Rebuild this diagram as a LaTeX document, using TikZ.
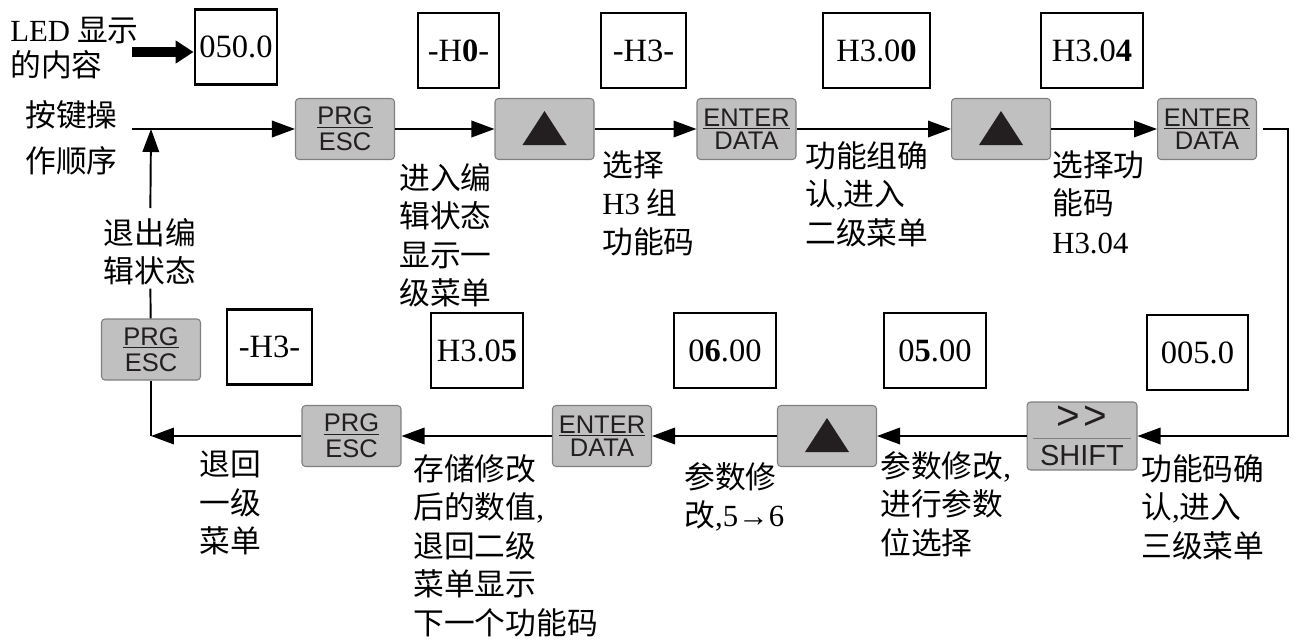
\documentclass[tikz,border=0pt]{standalone}
\usepackage{fontspec}
\setmainfont{Liberation Serif}
\newfontfamily\cjk{Noto Sans CJK SC}
\newfontfamily\keysans{Liberation Sans}
\usepackage{xcolor}
\usetikzlibrary{arrows.meta}

\definecolor{keygray}{HTML}{C0C0C0}
\definecolor{keyedge}{HTML}{7F7F7F}
\definecolor{keyink}{HTML}{231F20}
\newcommand\lat[1]{{\rmfamily #1}}

\begin{document}
\begin{tikzpicture}[
    x=0.02cm, y=-0.02cm,
    led/.style={draw, line width=1.6pt, minimum height=1.5cm, inner sep=0pt, font=\fontsize{18.5}{20}\selectfont},
    key/.style={draw=keyedge, fill=keygray, rounded corners=2pt, line width=0.6pt, minimum width=1.98cm, minimum height=1.22cm, inner sep=0pt, align=center, text=keyink, font=\keysans\fontsize{14.5}{15}\selectfont},
    note/.style={anchor=north west, align=left, inner sep=0pt, font=\cjk\fontsize{17.5}{21.9}\selectfont},
    flow/.style={line width=1.1pt, -{Triangle[length=0.46cm, width=0.33cm]}},
    link/.style={line width=1.1pt},
]
\useasboundingbox (0,0) rectangle (1293,639);

% LED display contents
\node[led, minimum width=1.64cm] (d0) at (236,47) {050.0};
\node[led, minimum width=1.62cm] (d1) at (458.5,50.5) {-H\textbf{0}-};
\node[led, minimum width=1.70cm] (d2) at (643.5,50.5) {-H3-};
\node[led, minimum width=2.14cm] (d3) at (876.5,50.5) {H3.0\textbf{0}};
\node[led, minimum width=2.04cm] (d4) at (1092,50.5) {H3.0\textbf{4}};
\node[led, minimum width=1.70cm] (d5) at (269.5,347) {-H3-};
\node[led, minimum width=1.84cm] (d6) at (477,350.5) {H3.0\textbf{5}};
\node[led, minimum width=2.04cm] (d7) at (725,350.5) {0\textbf{6}.00};
\node[led, minimum width=2.04cm] (d8) at (935,350.5) {0\textbf{5}.00};
\node[led, minimum width=2.02cm] (d9) at (1197.5,352.5) {005.0};

% keys, top row
\node[key] (prgA) at (345,129) {\underline{PRG}\\ESC};
\node[key] (upA) at (544.5,129) {};
\node[key] (entA) at (746.5,129) {\underline{ENTER}\\[-2pt]DATA};
\node[key] (upB) at (1001,129) {};
\node[key] (entB) at (1207,129) {\underline{ENTER}\\[-2pt]DATA};
% keys, bottom row
\node[key, minimum width=2.2cm, minimum height=1.36cm] (shift) at (1082,436)
    {{\fontsize{23}{23}\selectfont >\hspace{0.08em}>}\\[-0.65em]\textcolor{gray}{\rule{1.95cm}{0.8pt}}\\[0em]{\fontsize{16.5}{17}\selectfont SHIFT}};
\node[key] (upC) at (827,436) {};
\node[key] (entC) at (602,436) {\underline{ENTER}\\[-2pt]DATA};
\node[key] (prgB) at (351.5,436) {\underline{PRG}\\ESC};
\node[key] (prgC) at (151,349.5) {\underline{PRG}\\ESC};

\foreach \k in {upA,upB,upC}
    \fill[keyink] (\k.center) ++(-22,16) -- ++(44,0) -- ++(-22,-34) -- cycle;

% labels
\node[note] (ledlbl) at (10,17) {\lat{LED} 显示\\[-2pt]的内容};
\node[note] (keylbl) at (25,100) {按键操\\[4.5pt]作顺序};
\node[note, anchor=north, align=center] (exitlbl) at (150,218) {退出编\\辑状态};
\node[note] (n1) at (399,163) {进入编\\辑状态\\显示一\\级菜单};
\node[note] (n2) at (602,150) {选择\\\lat{H3} 组\\功能码};
\node[note] (n3) at (805,141) {功能组确\\认\lat{,}进入\\二级菜单};
\node[note] (n4) at (1052,150) {选择功\\能码\\\lat{H3.04}};
\node[note] (n5) at (1141,454) {功能码确\\认\lat{,}进入\\三级菜单};
\node[note] (n6) at (880,451) {参数修改\lat{,}\\进行参数\\位选择};
\node[note] (n7) at (684,462) {参数修\\改\lat{,5→6}};
\node[note] (n8) at (413,454) {存储修改\\后的数值\lat{,}\\退回二级\\菜单显示\\下一个功能码};
\node[note] (n9) at (199,451) {退回\\一级\\菜单};

\coordinate (ledtail) at (132,52);
\coordinate (start) at (132,129);
\coordinate (join) at (151,129);
\coordinate (corner) at (151,436);
\coordinate (rcorner) at (1288,436);

\draw[line width=0.2cm, -{Triangle[length=0.36cm, width=0.44cm]}] (ledtail) -- (ledtail -| d0.west);

\draw[flow] (start) -- (prgA);
\draw[flow] (prgA) -- (upA);
\draw[flow] (upA) -- (entA);
\draw[flow] (entA) -- (upB);
\draw[flow] (upB) -- (entB);
\draw[flow, shorten <=0.12cm] (entB) -| (rcorner) -- (shift);
\draw[flow] (shift) -- (upC);
\draw[flow] (upC) -- (entC);
\draw[flow] (entC) -- (prgB);
\draw[flow] (prgB) -- (corner);
\draw[link] (corner) -- (prgC);
\draw[link, shorten >=0.06cm] (prgC) -- (exitlbl);
\draw[flow, shorten <=0.2cm] (exitlbl) -- (join);
\end{tikzpicture}
\end{document}
